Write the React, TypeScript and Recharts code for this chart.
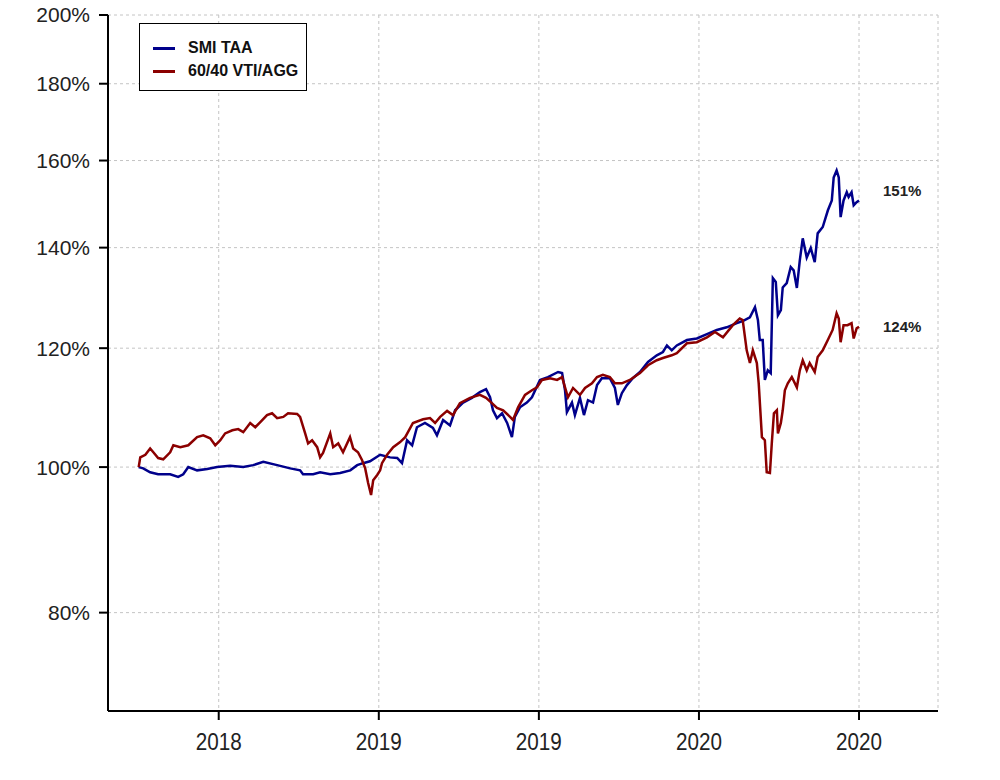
import { LineChart, Line, XAxis, YAxis, CartesianGrid, ReferenceDot } from 'recharts';

// x is months from mid-2018 (tick 0), y is growth of 1 in %
const X_TICKS = [0, 6, 12, 18, 24];
const X_TICK_LABELS = ['2018', '2019', '2019', '2020', '2020'];
const Y_TICKS = [80, 100, 120, 140, 160, 180, 200];

const SERIES_NAMES = ['SMI TAA', '60/40 VTI/AGG'];
const SERIES_COLORS = ['#00008B', '#8B0000'];
const END_LABELS = ['151%', '124%'];

const SMI_T = [
  -3.0, -2.83, -2.57, -2.27, -1.82, -1.52, -1.33, -1.14, -0.81, -0.43,
  -0.06, 0.43, 0.92, 1.29, 1.67, 2.19, 2.68, 3.05, 3.16, 3.54,
  3.8, 4.18, 4.55, 4.93, 5.19, 5.41, 5.67, 6.05, 6.42, 6.69,
  6.87, 7.06, 7.25, 7.43, 7.73, 8.03, 8.18, 8.41, 8.67, 8.86,
  9.16, 9.49, 9.79, 10.02, 10.17, 10.28, 10.43, 10.62, 10.81, 10.99,
  11.1, 11.29, 11.55, 11.74, 12.04, 12.34, 12.72, 12.87, 12.98, 13.05,
  13.24, 13.35, 13.54, 13.69, 13.84, 14.03, 14.18, 14.36, 14.66, 14.85,
  14.96, 15.11, 15.3, 15.52, 15.79, 16.09, 16.42, 16.65, 16.8, 16.98,
  17.17, 17.55, 17.92, 18.3, 18.67, 19.04, 19.42, 19.64, 19.91, 20.1,
  20.21, 20.28, 20.39, 20.47, 20.58, 20.69, 20.77, 20.88, 20.96, 21.07,
  21.14, 21.29, 21.44, 21.55, 21.67, 21.78, 21.89, 22.04, 22.19, 22.34,
  22.45, 22.64, 22.83, 22.98, 23.05, 23.16, 23.24, 23.31, 23.42, 23.54,
  23.61, 23.72, 23.8, 23.91, 24.0,
];
const SMI_V = [
  100.0, 99.8, 99.2, 98.9, 98.9, 98.5, 98.9, 100.0, 99.5, 99.7,
  100.0, 100.2, 100.0, 100.3, 100.8, 100.3, 99.8, 99.5, 98.9, 98.9,
  99.2, 98.9, 99.1, 99.5, 100.3, 100.6, 100.9, 101.9, 101.5, 101.4,
  100.6, 104.2, 103.4, 106.3, 107.0, 106.2, 105.0, 107.5, 106.6, 109.1,
  110.4, 111.2, 112.2, 112.7, 111.3, 109.1, 107.8, 108.6, 107.0, 104.7,
  108.0, 109.6, 110.4, 111.3, 114.3, 114.8, 115.7, 115.5, 112.5, 108.8,
  110.4, 108.3, 111.2, 108.3, 110.8, 110.4, 113.4, 114.6, 114.6, 112.9,
  110.0, 112.0, 113.4, 114.6, 115.7, 117.5, 118.7, 119.3, 120.5, 119.6,
  120.5, 121.5, 121.8, 122.6, 123.4, 123.9, 124.7, 125.1, 125.8, 127.8,
  125.3, 121.5, 121.5, 114.3, 116.0, 115.5, 133.6, 132.8, 126.2, 127.2,
  131.7, 132.6, 135.9, 135.2, 131.6, 137.3, 142.0, 137.9, 139.9, 136.9,
  143.1, 144.5, 148.2, 150.5, 155.9, 157.6, 155.9, 146.7, 150.5, 152.4,
  151.3, 152.4, 149.4, 150.1, 150.5,
];

const MIX_T = [
  -3.0, -2.94, -2.75, -2.57, -2.45, -2.27, -2.08, -1.82, -1.7, -1.44,
  -1.14, -0.81, -0.58, -0.32, -0.13, 0.06, 0.24, 0.51, 0.73, 0.92,
  1.18, 1.37, 1.55, 1.81, 2.0, 2.19, 2.42, 2.6, 2.94, 3.05,
  3.24, 3.35, 3.5, 3.69, 3.8, 3.91, 4.18, 4.29, 4.48, 4.66,
  4.92, 5.04, 5.22, 5.37, 5.49, 5.6, 5.71, 5.79, 5.94, 6.05,
  6.12, 6.31, 6.54, 6.8, 6.99, 7.28, 7.66, 7.92, 8.11, 8.3,
  8.56, 8.78, 9.04, 9.42, 9.79, 10.02, 10.24, 10.43, 10.66, 10.92,
  11.03, 11.22, 11.48, 11.74, 11.93, 12.12, 12.42, 12.68, 12.87, 12.98,
  13.09, 13.28, 13.54, 13.73, 13.99, 14.18, 14.4, 14.66, 14.85, 15.11,
  15.41, 15.79, 16.09, 16.42, 16.65, 16.98, 17.17, 17.55, 17.92, 18.3,
  18.6, 18.9, 19.27, 19.53, 19.64, 19.79, 19.91, 20.02, 20.17, 20.24,
  20.36, 20.47, 20.54, 20.66, 20.73, 20.81, 20.92, 20.96, 21.07, 21.14,
  21.22, 21.33, 21.48, 21.67, 21.78, 21.89, 22.04, 22.15, 22.34, 22.45,
  22.64, 22.83, 23.01, 23.16, 23.24, 23.31, 23.42, 23.57, 23.72, 23.8,
  23.91, 24.0,
];
const MIX_V = [
  100.0, 101.5, 101.9, 102.9, 102.3, 101.4, 101.2, 102.3, 103.4, 103.1,
  103.4, 104.7, 105.0, 104.5, 103.4, 104.2, 105.3, 105.8, 106.0, 105.5,
  107.0, 106.3, 107.1, 108.3, 108.6, 107.8, 108.0, 108.6, 108.5, 108.0,
  105.3, 103.7, 104.2, 103.1, 101.5, 102.2, 105.3, 103.1, 103.7, 102.3,
  104.7, 102.9, 102.3, 101.1, 99.8, 97.6, 95.8, 98.0, 98.8, 99.5,
  100.6, 101.9, 103.1, 103.9, 104.7, 107.0, 107.6, 107.8, 107.0, 108.0,
  109.0, 108.3, 110.3, 111.2, 111.7, 111.2, 110.3, 109.5, 109.1, 108.0,
  107.5, 109.6, 111.7, 112.5, 113.0, 114.3, 114.6, 114.3, 114.8, 113.0,
  111.3, 112.9, 111.7, 112.9, 113.7, 114.8, 115.2, 114.8, 113.7, 113.7,
  114.3, 115.5, 116.9, 117.8, 118.2, 118.7, 119.1, 120.9, 121.1, 122.0,
  123.0, 122.0, 124.3, 125.6, 125.3, 119.6, 117.3, 119.6, 117.3, 113.7,
  104.7, 104.2, 99.2, 99.1, 103.7, 108.6, 109.1, 105.3, 107.0, 109.1,
  112.5, 113.7, 114.8, 113.0, 116.0, 117.8, 116.0, 117.3, 115.7, 118.4,
  119.6, 121.5, 123.4, 126.6, 125.6, 121.1, 124.3, 124.3, 124.7, 121.8,
  123.7, 124.0,
];

const FONT = "'Liberation Sans', Arial, Helvetica, sans-serif";

const smiData = SMI_T.map((t, i) => ({ t, v: SMI_V[i] }));
const mixData = MIX_T.map((t, i) => ({ t, v: MIX_V[i] }));
const seriesData = [smiData, mixData];

function XTick({ x, y, payload }: any) {
  const i = X_TICKS.indexOf(payload.value);
  return (
    <text
      x={x}
      y={y}
      dy="0.71em"
      textAnchor="middle"
      fontSize={24}
      fontFamily={FONT}
      fill="#222"
      textLength={46}
      lengthAdjust="spacingAndGlyphs"
    >
      {X_TICK_LABELS[i]}
    </text>
  );
}

function EndLabel({ viewBox, text, shift }: any) {
  return (
    <text
      x={viewBox.x + 24}
      y={viewBox.y + shift}
      dominantBaseline="central"
      fontSize={15}
      fontWeight="bold"
      fontFamily={FONT}
      fill="#222"
    >
      {text}
    </text>
  );
}

export default function App() {
  return (
    <div style={{ position: 'absolute', left: 0, top: 0, width: 1000, height: 780, background: '#fff' }}>
      <LineChart width={1000} height={780} margin={{ top: 15, right: 62, bottom: 0, left: 0 }}>
        <CartesianGrid stroke="#c4c4c4" strokeDasharray="3 3" />
        <XAxis
          type="number"
          dataKey="t"
          domain={[-4.15, 26.96]}
          allowDataOverflow
          ticks={X_TICKS}
          height={69}
          tickSize={9}
          tickMargin={13}
          tick={<XTick />}
          axisLine={{ stroke: '#000', strokeWidth: 2 }}
          tickLine={{ stroke: '#000', strokeWidth: 2 }}
        />
        <YAxis
          scale="log"
          domain={[68.8, 200]}
          allowDataOverflow
          ticks={Y_TICKS}
          width={108}
          tickSize={9}
          tickMargin={9}
          tickFormatter={(v: number) => `${v}%`}
          tick={{ fontSize: 21, fill: '#222', fontFamily: FONT }}
          axisLine={{ stroke: '#000', strokeWidth: 2 }}
          tickLine={{ stroke: '#000', strokeWidth: 2 }}
        />
        {seriesData.map((d, i) => (
          <Line
            key={SERIES_NAMES[i]}
            data={d}
            dataKey="v"
            type="linear"
            stroke={SERIES_COLORS[i]}
            strokeWidth={2.5}
            dot={false}
            isAnimationActive={false}
          />
        ))}
        {seriesData.map((d, i) => (
          <ReferenceDot
            key={END_LABELS[i]}
            x={d[d.length - 1].t}
            y={d[d.length - 1].v}
            r={0}
            stroke="none"
            fill="none"
            label={<EndLabel text={END_LABELS[i]} shift={i === 0 ? -10 : 0} />}
          />
        ))}
      </LineChart>

      <div
        style={{
          position: 'absolute',
          left: 139,
          top: 23,
          width: 168,
          height: 68,
          boxSizing: 'border-box',
          border: '1.5px solid #000',
          background: '#fff',
          fontFamily: FONT,
          fontWeight: 'bold',
          fontSize: 16,
          color: '#111',
        }}
      >
        {SERIES_NAMES.map((name, i) => (
          <div
            key={name}
            style={{ position: 'absolute', left: 13, top: 13 + i * 23.4, height: 22, display: 'flex', alignItems: 'center' }}
          >
            <span style={{ display: 'inline-block', width: 22, height: 3, background: SERIES_COLORS[i], marginRight: 13 }} />
            <span>{name}</span>
          </div>
        ))}
      </div>
    </div>
  );
}
